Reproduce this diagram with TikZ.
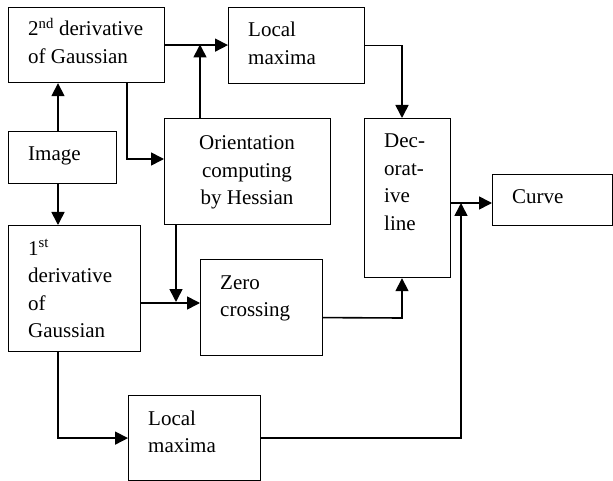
\documentclass[tikz,border=0pt]{standalone}
\usepackage{fontspec}
\setmainfont{Liberation Serif}
\usetikzlibrary{arrows.meta}
\newcommand\txtl[1]{\begin{tabular}[t]{@{}l@{}}#1\end{tabular}}
\newcommand\txtc[1]{\begin{tabular}[t]{@{}c@{}}#1\end{tabular}}
\begin{document}
\begin{tikzpicture}[x=1pt,y=-1pt,
  box/.style={draw,line width=1.2pt,rectangle,inner sep=0pt,anchor=north west},
  lbl/.style={inner sep=0pt,anchor=base west,font=\fontsize{21}{27.5}\selectfont},
  arr/.style={line width=1.6pt,-{Triangle[length=13pt,width=13pt]}}]
\useasboundingbox (0,0) rectangle (613,481);
% boxes
\node[box,minimum width=156pt,minimum height=75pt] (d2) at (8,7) {};
\node[box,minimum width=136pt,minimum height=76pt] (lmt) at (228,7) {};
\node[box,minimum width=108pt,minimum height=52pt] (img) at (8,131) {};
\node[box,minimum width=166pt,minimum height=106pt] (ori) at (164,118) {};
\node[box,minimum width=132pt,minimum height=126pt] (d1) at (8,225) {};
\node[box,minimum width=122pt,minimum height=96pt] (zc) at (200,259) {};
\node[box,minimum width=132pt,minimum height=85pt] (lmb) at (128,395) {};
\node[box,minimum width=86pt,minimum height=159pt] (dec) at (364,118) {};
\node[box,minimum width=120pt,minimum height=51pt] (crv) at (492,174) {};
% texts
\node[lbl] (td2) at (28,36) {\txtl{2\textsuperscript{nd} derivative\\of Gaussian}};
\node[lbl] (tlmt) at (248,37) {\txtl{Local\\maxima}};
\node[lbl] (timg) at (28,161) {Image};
\node[lbl,anchor=base] (tori) at (247,150) {\txtc{Orientation\\computing\\by Hessian}};
\node[lbl] (td1) at (28,255) {\txtl{1\textsuperscript{st}\\derivative\\of\\Gaussian}};
\node[lbl] (tzc) at (220,289) {\txtl{Zero\\crossing}};
\node[lbl] (tlmb) at (148,425) {\txtl{Local\\maxima}};
\node[lbl] (tdec) at (384,148) {\txtl{Dec-\\orat-\\ive\\line}};
\node[lbl] (tcrv) at (512,204) {Curve};
% helper coordinates
\coordinate (j1) at (200,44.5);
\coordinate (c1) at (127,0);
\coordinate (vx) at (58,0);
\coordinate (j2) at (176,302);
\coordinate (r1) at (0,303);
\coordinate (k1) at (402,318);
\coordinate (r2) at (0,203);
\coordinate (j3) at (461,203);
% connectors
\draw[arr] (d2.east) -- (d2.east -| lmt.west);
\draw[arr] (ori.north -| j1) -- (j1);
\draw[arr] (d2.south -| c1) |- ([yshift=-41pt]ori.north west);
\draw[arr] (img.north -| vx) -- (d2.south -| vx);
\draw[arr] (img.south -| vx) -- (d1.north -| vx);
\draw[arr] (ori.south -| j2) -- (j2);
\draw[arr] (d1.east |- r1) -- (zc.west |- r1);
\draw[arr] ([yshift=-10pt]zc.east) -- (k1) -- (k1 |- dec.south);
\draw[arr] (lmt.east) -| (dec.north -| k1);
\draw[arr] (dec.east |- r2) -- (crv.west |- r2);
\draw[arr] (d1.south -| vx) |- (lmb.west);
\draw[arr] (lmb.east) -| (j3);
\end{tikzpicture}
\end{document}
